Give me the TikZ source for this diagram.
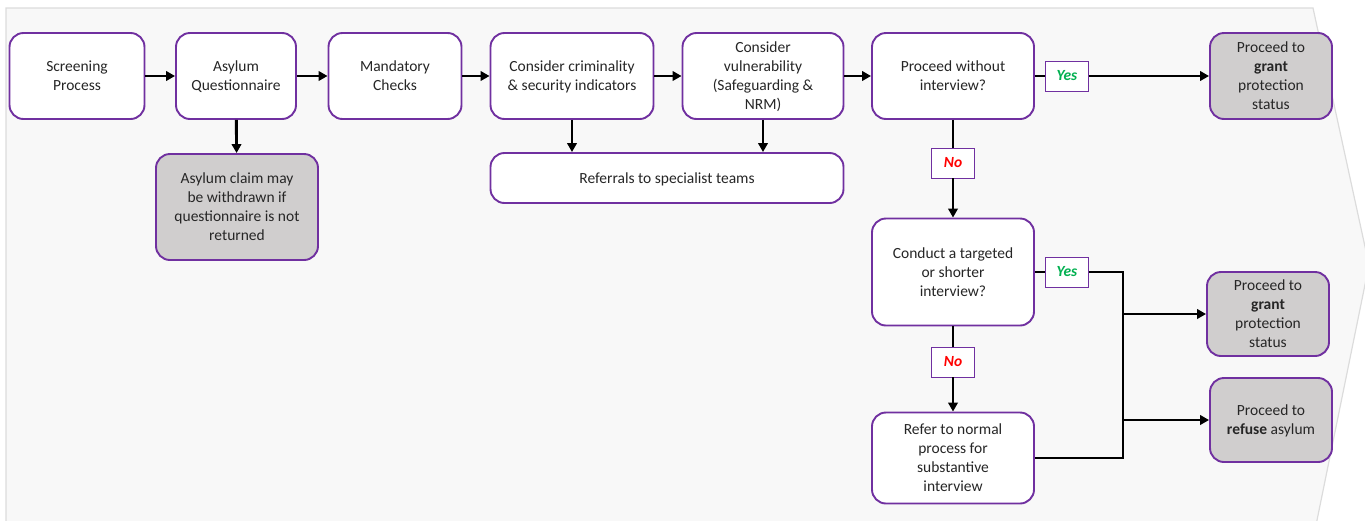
\documentclass[tikz,border=0pt]{standalone}
\usepackage{fontspec}
\setmainfont{Carlito}
\usetikzlibrary{arrows.meta}
\definecolor{purp}{HTML}{7030A0}
\definecolor{bgfill}{HTML}{F8F8F8}
\definecolor{bgline}{HTML}{DCDCDC}
\definecolor{boxgray}{HTML}{D0CECE}
\definecolor{txt}{HTML}{262626}
\definecolor{yesgreen}{HTML}{00B050}
\definecolor{nored}{HTML}{FF0000}
\begin{document}
\begin{tikzpicture}[x=1pt,y=-1pt,
  every node/.style={font=\fontsize{15.5}{19}\selectfont, text=txt, align=center},
  box/.style={draw=purp, line width=1.9pt, rounded corners=14pt, fill=white, inner sep=0pt, text depth=-1.5pt},
  graybox/.style={box, fill=boxgray},
  lbl/.style={draw=purp, line width=0.8pt, fill=white, minimum width=43, minimum height=30, inner sep=0pt, font=\fontsize{15.5}{19}\selectfont\bfseries\itshape},
  conn/.style={line width=2.9pt, black},
  arr/.style={conn, -{Triangle[length=9pt,width=9.5pt]}}]
\useasboundingbox (0,0) rectangle (1365,520);
% background chevron
\draw[draw=bgline, line width=1.2pt, fill=bgfill] (6,8) -- (1313,8) -- (1369,265) -- (1315,530) -- (6,530) -- cycle;

% top row
\node[box, minimum width=135, minimum height=86] (sp) at (77,76) {Screening\\Process};
\node[box, minimum width=120, minimum height=86] (aq) at (236,76) {Asylum\\Questionnaire};
\node[box, minimum width=133, minimum height=86] (mc) at (395,76) {Mandatory\\Checks};
\node[box, minimum width=163, minimum height=86] (cc) at (572,76) {Consider criminality\\\& security indicators};
\node[box, minimum width=161, minimum height=86] (cv) at (763,76) {Consider\\vulnerability\\(Safeguarding \&\\NRM)};
\node[box, minimum width=162, minimum height=86] (pwi) at (953,76) {Proceed without\\interview?};
\node[graybox, minimum width=122, minimum height=86] (g1) at (1271,76) {Proceed to\\\textbf{grant}\\protection\\status};

% second row
\node[graybox, minimum width=162, minimum height=106] (wd) at (237,207) {Asylum claim may\\be withdrawn if\\questionnaire is not\\returned};
\node[box, minimum width=353, minimum height=50] (ref) at (667,178) {Referrals to specialist teams};

% right column
\node[box, minimum width=162, minimum height=107] (cti) at (953,272) {Conduct a targeted\\or shorter\\interview?};
\node[box, minimum width=162, minimum height=91] (rnp) at (953,458) {Refer to normal\\process for\\substantive\\interview};
\node[graybox, minimum width=122, minimum height=84] (g2) at (1268,314) {Proceed to\\\textbf{grant}\\protection\\status};
\node[graybox, minimum width=122, minimum height=84] (rf) at (1271,420) {Proceed to\\\textbf{refuse} asylum};

% labels
\node[lbl, text=yesgreen] (y1) at (1067,76) {Yes};
\node[lbl, text=nored] (n1) at (953,163) {No};
\node[lbl, text=yesgreen] (y2) at (1067,272) {Yes};
\node[lbl, text=nored] (n2) at (953,362) {No};

% connectors top row
\draw[arr] (sp) -- (aq);
\draw[arr] (aq) -- (mc);
\draw[arr] (mc) -- (cc);
\draw[arr] (cc) -- (cv);
\draw[arr] (cv) -- (pwi);
\draw[conn] (pwi) -- (y1);
\draw[arr] (y1) -- (g1);

% down arrows
\draw[arr] (aq) -- (wd);
\draw[arr] (cc.south) -- (cc.south |- ref.north);
\draw[arr] (cv.south) -- (cv.south |- ref.north);
\draw[conn] (pwi) -- (n1);
\draw[arr] (n1) -- (cti);
\draw[conn] (cti) -- (n2);
\draw[arr] (n2) -- (rnp);

% junction
\coordinate (j1) at (1123,272);
\coordinate (j2) at (1123,458);
\draw[conn] (y2.east) -- (j1) -- (j2) -- (rnp.east);
\draw[conn] (cti) -- (y2);
\draw[arr] (j1 |- g2) -- (g2);
\draw[arr] (j1 |- rf) -- (rf);
\end{tikzpicture}
\end{document}
